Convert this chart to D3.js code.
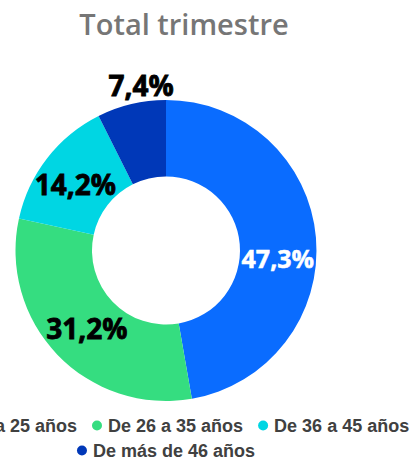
<!DOCTYPE html>
<html>
<head>
<meta charset="utf-8">
<script src="https://cdn.jsdelivr.net/npm/d3@7"></script>
<style>
  html, body { margin: 0; padding: 0; background: #ffffff; overflow: hidden; }
  svg { display: block; }
</style>
</head>
<body>
<svg id="chart" width="412" height="458"></svg>
<script>
// ---- data ----
const categories = ["Hasta 25 años", "De 26 a 35 años", "De 36 a 45 años", "De más de 46 años"];
const values = [47.3, 31.2, 14.2, 7.4];
const valueLabels = ["47,3%", "31,2%", "14,2%", "7,4%"];
const colors = ["#0a6cff", "#35dd80", "#00d6e3", "#0038b8"];
const title = "Total trimestre";

// ---- layout ----
const W = 412, H = 458;
const cx = 166, cy = 250.5, outerR = 150.5, innerR = 74;
const labelColors = ["#ffffff", "#000000", "#000000", "#000000"];
const labelSizes = [25, 28, 28, 28];
const labelNudge = [[0, 18], [2, 1], [-2, 3], [1, -55]];

const svg = d3.select("#chart");

svg.append("text")
  .attr("x", 184).attr("y", 35)
  .attr("text-anchor", "middle")
  .style("font-family", "'Open Sans', sans-serif")
  .style("font-weight", 600)
  .style("font-size", "29px")
  .style("fill", "#767676")
  .text(title);

const pie = d3.pie().sort(null).value(d => d)(values);
const arc = d3.arc().innerRadius(innerR).outerRadius(outerR);

const g = svg.append("g").attr("transform", `translate(${cx},${cy})`);
g.selectAll("path.slice").data(pie).join("path")
  .attr("class", "slice")
  .attr("d", arc)
  .attr("fill", (d, i) => colors[i]);

g.selectAll("text.lbl").data(pie).join("text")
  .attr("class", "lbl")
  .attr("x", (d, i) => arc.centroid(d)[0] + labelNudge[i][0])
  .attr("y", (d, i) => arc.centroid(d)[1] + labelNudge[i][1] + labelSizes[i] * 0.357)
  .attr("text-anchor", "middle")
  .style("font-family", "'Open Sans', sans-serif")
  .style("font-weight", 700)
  .style("font-size", (d, i) => labelSizes[i] + "px")
  .style("fill", (d, i) => labelColors[i])
  .style("stroke", (d, i) => labelColors[i])
  .style("stroke-width", (d, i) => i === 0 ? 0.5 : 0.8)
  .text((d, i) => valueLabels[i]);

// ---- legend ----
const legendRows = [[0, 1, 2], [3]];
const rowBaselines = [432, 457];
const fs = 18, dotR = 5, dotGap = 6, itemGap = 15;
const lg = svg.append("g");
legendRows.forEach((row, ri) => {
  const items = row.map(i => {
    const t = lg.append("text")
      .style("font-family", "'Liberation Sans', Arial, sans-serif")
      .style("font-weight", 700)
      .style("font-size", fs + "px")
      .style("fill", "#404040")
      .text(categories[i]);
    const w = t.node().getComputedTextLength();
    return { i, t, w, total: dotR * 2 + dotGap + w };
  });
  const totalW = d3.sum(items, d => d.total) + itemGap * (items.length - 1);
  // first row: second item begins at x=92 (first item runs off the left edge); second row centred at 166
  let x = ri === 0 ? 92 - items[0].total - itemGap : 166 - totalW / 2;
  items.forEach(it => {
    lg.append("circle")
      .attr("cx", x + dotR).attr("cy", rowBaselines[ri] - 6.5)
      .attr("r", dotR).attr("fill", colors[it.i]);
    it.t.attr("x", x + dotR * 2 + dotGap).attr("y", rowBaselines[ri]);
    x += it.total + itemGap;
  });
});
</script>
</body>
</html>
